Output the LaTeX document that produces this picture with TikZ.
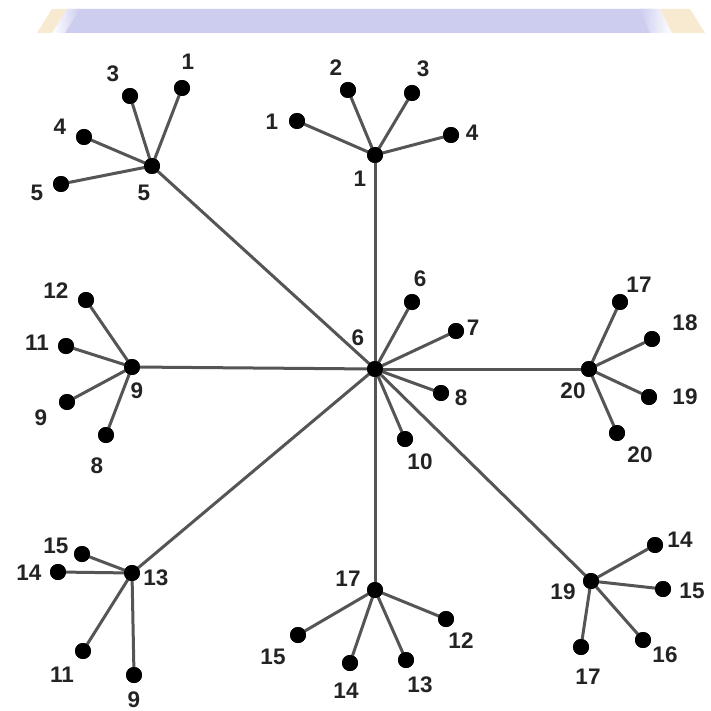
\documentclass[tikz,border=0pt]{standalone}
\usepackage{fontspec}
\setmainfont{Liberation Sans}
\definecolor{band}{RGB}{205,205,240}
\definecolor{tan}{RGB}{248,234,208}
\definecolor{edgegray}{RGB}{85,85,85}
\definecolor{lbltext}{RGB}{35,35,35}
\begin{document}
\begin{tikzpicture}[x=1pt,y=-1pt,
  dot/.style={circle,fill=black,inner sep=0pt,minimum size=16pt},
  link/.style={draw=edgegray,line width=3pt},
  lbl/.style={text=lbltext,inner sep=0pt,font=\bfseries\fontsize{22.5}{22.5}\selectfont}]
\useasboundingbox (0,0) rectangle (710,711);
\fill[white] (0,0) rectangle (710,711);
% watermark band
\fill[tan] (37,33) -- (52,9) -- (72,9) -- (57,33) -- cycle;
\fill[band] (62,33) -- (77,9) -- (652,9) -- (665,33) -- cycle;
\shade[left color=white,right color=band] (52,33) -- (67,9) -- (80,9) -- (65,33) -- cycle;
\shade[left color=band,right color=white] (650,33) -- (640,9) -- (660,9) -- (672,33) -- cycle;
\fill[tan] (672,33) -- (660,9) -- (690,9) -- (705,33) -- cycle;

% centre
\node[dot] (c) at (375,369) {};
\node[lbl] (lc) at (358,338) {6};
% hubs
\node[dot] (h5) at (152,166) {};
\node[dot] (h1) at (375,155) {};
\node[dot] (h9) at (132,367) {};
\node[dot] (h20) at (589,369) {};
\node[dot] (h13) at (132,573) {};
\node[dot] (h17) at (375,590) {};
\node[dot] (h19) at (591,581) {};
\node[lbl] (lh5) at (144,193) {5};
\node[lbl] (lh1) at (360,179) {1};
\node[lbl] (lh9) at (137,391) {9};
\node[lbl] (lh20) at (573,391) {20};
\node[lbl] (lh13) at (156,578) {13};
\node[lbl] (lh17) at (348,579) {17};
\node[lbl] (lh19) at (563,592) {19};

% leaves of hub 5
\node[dot] (a1) at (182,88) {};
\node[dot] (a3) at (130,96) {};
\node[dot] (a4) at (84,137) {};
\node[dot] (a5) at (61,184) {};
\node[lbl] (la1) at (188,62) {1};
\node[lbl] (la3) at (113,74) {3};
\node[lbl] (la4) at (60,127) {4};
\node[lbl] (la5) at (37,193) {5};
% leaves of hub 1
\node[dot] (b1) at (297,121) {};
\node[dot] (b2) at (348,90) {};
\node[dot] (b3) at (412,93) {};
\node[dot] (b4) at (451,135) {};
\node[lbl] (lb1) at (272,122) {1};
\node[lbl] (lb2) at (336,68) {2};
\node[lbl] (lb3) at (423,69) {3};
\node[lbl] (lb4) at (472,133) {4};
% leaves of hub 9
\node[dot] (d12) at (86,300) {};
\node[dot] (d11) at (66,346) {};
\node[dot] (d9) at (67,402) {};
\node[dot] (d8) at (106,435) {};
\node[lbl] (ld12) at (56,291) {12};
\node[lbl] (ld11) at (37,343) {11};
\node[lbl] (ld9) at (41,418) {9};
\node[lbl] (ld8) at (97,466) {8};
% leaves of centre
\node[dot] (e6) at (412,302) {};
\node[dot] (e7) at (456,331) {};
\node[dot] (e8) at (441,393) {};
\node[dot] (e10) at (405,439) {};
\node[lbl] (le6) at (420,279) {6};
\node[lbl] (le7) at (473,328) {7};
\node[lbl] (le8) at (461,398) {8};
\node[lbl] (le10) at (420,462) {10};
% leaves of hub 20
\node[dot] (f17) at (620,302) {};
\node[dot] (f18) at (652,339) {};
\node[dot] (f19) at (649,397) {};
\node[dot] (f20) at (617,433) {};
\node[lbl] (lf17) at (639,285) {17};
\node[lbl] (lf18) at (685,323) {18};
\node[lbl] (lf19) at (685,397) {19};
\node[lbl] (lf20) at (640,455) {20};
% leaves of hub 13
\node[dot] (g15) at (82,554) {};
\node[dot] (g14) at (58,572) {};
\node[dot] (g11) at (83,651) {};
\node[dot] (g9) at (134,675) {};
\node[lbl] (lg15) at (56,546) {15};
\node[lbl] (lg14) at (29,573) {14};
\node[lbl] (lg11) at (62,675) {11};
\node[lbl] (lg9) at (134,700) {9};
% leaves of hub 17
\node[dot] (k15) at (298,635) {};
\node[dot] (k14) at (350,663) {};
\node[dot] (k13) at (406,660) {};
\node[dot] (k12) at (446,619) {};
\node[lbl] (lk15) at (273,657) {15};
\node[lbl] (lk14) at (346,691) {14};
\node[lbl] (lk13) at (420,685) {13};
\node[lbl] (lk12) at (461,641) {12};
% leaves of hub 19
\node[dot] (m14) at (655,545) {};
\node[dot] (m15) at (663,589) {};
\node[dot] (m16) at (643,640) {};
\node[dot] (m17) at (581,647) {};
\node[lbl] (lm14) at (680,540) {14};
\node[lbl] (lm15) at (692,591) {15};
\node[lbl] (lm16) at (665,655) {16};
\node[lbl] (lm17) at (588,677) {17};

\foreach \h in {h1,h5,h9,h20,h13,h17,h19,e6,e7,e8,e10}
  \draw[link] (c.center) -- (\h.center);
\foreach \l in {a1,a3,a4,a5} \draw[link] (h5.center) -- (\l.center);
\foreach \l in {b1,b2,b3,b4} \draw[link] (h1.center) -- (\l.center);
\foreach \l in {d12,d11,d9,d8} \draw[link] (h9.center) -- (\l.center);
\foreach \l in {f17,f18,f19,f20} \draw[link] (h20.center) -- (\l.center);
\foreach \l in {g15,g14,g11,g9} \draw[link] (h13.center) -- (\l.center);
\foreach \l in {k15,k14,k13,k12} \draw[link] (h17.center) -- (\l.center);
\foreach \l in {m14,m15,m16,m17} \draw[link] (h19.center) -- (\l.center);
% redraw dots on top of the connectors
\foreach \n in {c,h1,h5,h9,h20,h13,h17,h19,a1,a3,a4,a5,b1,b2,b3,b4,d12,d11,d9,d8,e6,e7,e8,e10,f17,f18,f19,f20,g15,g14,g11,g9,k15,k14,k13,k12,m14,m15,m16,m17}
  \fill[black] (\n.center) circle (8pt);
\end{tikzpicture}
\end{document}
